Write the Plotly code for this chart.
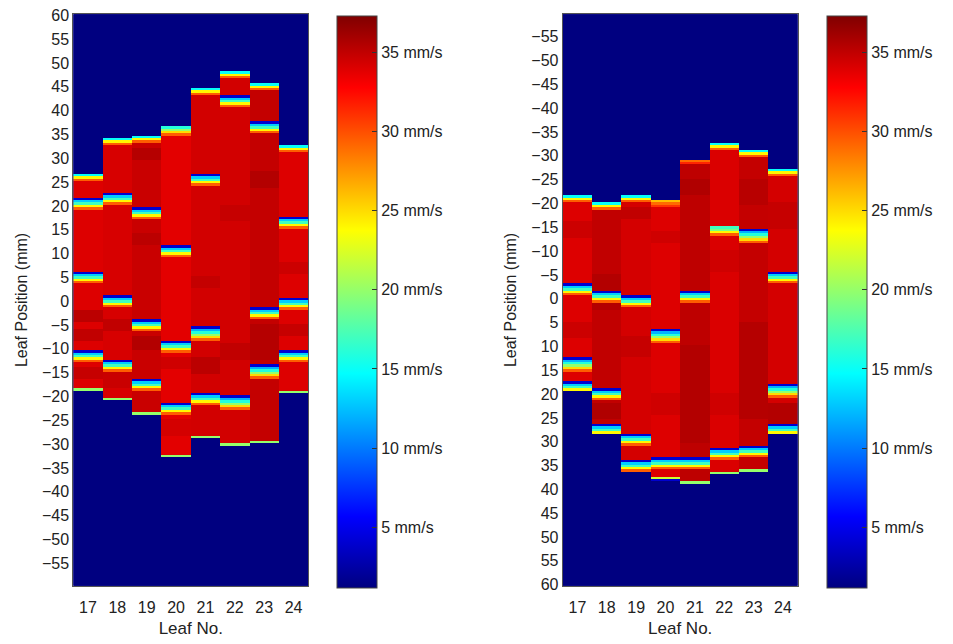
import numpy as np
import plotly.graph_objects as go

# ---------------- data ----------------
LEAVES = [17, 18, 19, 20, 21, 22, 23, 24]
Y_VALUES = np.arange(-59.5, 60.01, 0.5)          # leaf-position rows (mm)
BG_SPEED = 0.5                                   # speed outside the field (mm/s)

# speed profiles (mm/s), in top-to-bottom screen order
P_DIP = [4, 13, 17, 24, 29.5]
P_THICK = [4, 12, 16, 20, 25, 29.5]
P_TOP = [15, 24, 29.5]
P_TOP_THICK = [16, 20, 25, 29.5]
P_SOFT = [26, 29, 31]
P_ORANGE = [29, 31.5]
P_LIGHT = [17, 19, 24, 29.5]
P_BOTTOM = [20]
P_BOTTOM_BLUE = [22, 4]

# ---- left panel (position axis increases upward) ----
L_TOP = [26.5, 34, 34.5, 36.5, 44.5, 48, 45.5, 32.5]
L_BOTTOM = [-18.5, -20.5, -23.5, -32.5, -28.5, -30, -29.5, -19]
L_BASE = [34.0, 34.2, 34.7, 33.8, 34.4, 34.4, 34.9, 34.0]
L_TOP_PROFILE = ["top", "top", "top", "topthick", "top", "top", "top", "top"]
L_DIPS = [
    [(21.5, "dip"), (6, "dip"), (-10.5, "dip")],
    [(22.5, "dip"), (1, "dip"), (-12.5, "dip")],
    [(19.5, "dip"), (-4, "dip"), (-16.5, "dip")],
    [(11.5, "dip"), (-8.5, "dip"), (-21.5, "dip")],
    [(26.5, "dip"), (-5.5, "thick"), (-19.5, "dip")],
    [(43, "dip"), (-20, "thick")],
    [(37.5, "dip"), (-1.5, "dip"), (-13.5, "thick")],
    [(17.5, "dip"), (0.5, "dip"), (-10.5, "dip")],
]
L_DARK = [
    [(-2, -4, 35.2), (-6, -8, 35.0), (-14, -16, 34.8)],
    [(-4, -6, 35.0), (-15, -18, 34.7)],
    [(30, 32, 35.4), (-7.5, -10, 35.5), (12, 14, 35.2)],
    [(-12, -14, 34.5), (-25, -28, 34.3)],
    [(-12, -15, 35.2), (5, 3, 34.9)],
    [(20, 17, 34.8), (-9, -12, 35.0)],
    [(27, 24, 35.5), (-5, -12, 35.4)],
    [(8, 6, 34.6), (-5, -7, 34.8)],
]

# ---- right panel (position axis increases downward) ----
R_TOP = [-21.5, -20, -21.5, -20.5, -29, -32.5, -31, -27]
R_BOTTOM = [19, 28, 36, 38, 38.5, 36.5, 36, 28]
R_BASE = [34.0, 35.0, 34.3, 34.0, 35.1, 34.1, 34.9, 34.3]
R_TOP_PROFILE = ["top", "top", "top", "soft", "orange", "top", "top", "top"]
R_BOTTOM_PROFILE = ["none", "none", "none", "bottomblue", "bottom", "bottom", "bottom", "none"]
R_DIPS = [
    [(-3, "dip"), (12.5, "thick"), (17.5, "dip")],
    [(-1.5, "dip"), (19, "dip"), (26.5, "dip")],
    [(-0.5, "dip"), (28.5, "dip"), (34, "dip")],
    [(6.5, "thick"), (33.5, "dip")],
    [(-1.5, "dip"), (33.5, "dip")],
    [(-15, "light"), (31.5, "dip")],
    [(-14.5, "thick"), (31, "dip")],
    [(-5.5, "dip"), (18, "thick"), (26.5, "dip")],
]
R_DARK = [
    [(-16, -13, 34.6), (5, 8, 34.6)],
    [(-5, 2, 35.5), (22, 25, 35.6)],
    [(-19, -17, 35.0), (8, 12, 34.8)],
    [(-14, -12, 34.5), (20, 24, 34.5)],
    [(-25, -22, 35.6), (10, 30, 35.5)],
    [(-10, -6, 34.5), (20, 24, 34.5)],
    [(-25, -20, 35.3), (5, 25, 35.4)],
    [(-20, -15, 34.8), (22, 26, 35.5)],
]

PROFILES = {
    "dip": P_DIP, "thick": P_THICK, "top": P_TOP, "topthick": P_TOP_THICK,
    "soft": P_SOFT, "orange": P_ORANGE, "light": P_LIGHT,
    "bottom": P_BOTTOM, "bottomblue": P_BOTTOM_BLUE, "none": [],
}

TICKS_LEFT = list(range(60, -56, -5))
TICKS_RIGHT = list(range(-55, 61, 5))
CBAR_TICKS = [5, 10, 15, 20, 25, 30, 35]
CBAR_LABELS = [f"{v} mm/s" for v in CBAR_TICKS]
CMIN, CMAX = 1.2, 37.3


def idx(y):
    return int(round((y - Y_VALUES[0]) / 0.5))


def build(tops, bottoms, bases, top_prof, bottom_prof, dips, dark, down):
    n = len(Y_VALUES)
    z = np.full((n, len(LEAVES)), BG_SPEED)
    for c in range(len(LEAVES)):
        i0, i1 = sorted((idx(tops[c]), idx(bottoms[c])))
        z[i0:i1 + 1, c] = bases[c]
        for a, b, v in dark[c]:
            j0, j1 = sorted((idx(a), idx(b)))
            j0, j1 = max(j0, i0), min(j1, i1)
            if j1 >= j0:
                z[j0:j1 + 1, c] = v
        for k, v in enumerate(PROFILES[top_prof[c]]):
            z[idx(tops[c]) + k * down, c] = v
        for pos, name in dips[c]:
            for k, v in enumerate(PROFILES[name]):
                j = idx(pos) + k * down
                if i0 <= j <= i1:
                    z[j, c] = v
        bp = PROFILES[bottom_prof[c]]
        for k, v in enumerate(bp):
            z[idx(bottoms[c]) - (len(bp) - 1 - k) * down, c] = v
    return z


z_left = build(L_TOP, L_BOTTOM, L_BASE, L_TOP_PROFILE, ["bottom"] * 8, L_DIPS, L_DARK, -1)
z_right = build(R_TOP, R_BOTTOM, R_BASE, R_TOP_PROFILE, R_BOTTOM_PROFILE, R_DIPS, R_DARK, +1)

JET = [[0.0, "rgb(0,0,128)"], [0.125, "rgb(0,0,255)"], [0.375, "rgb(0,255,255)"],
       [0.625, "rgb(255,255,0)"], [0.875, "rgb(255,0,0)"], [1.0, "rgb(128,0,0)"]]

FONT = "Liberation Sans, Arial, sans-serif"
TXT = "#222222"
W, H = 953, 644


def cbar(x_px):
    return dict(
        x=x_px / W, xanchor="left", xref="paper",
        y=1 - 301.2 / H, yanchor="middle", len=584.3 / H, lenmode="fraction",
        thickness=40, thicknessmode="pixels",
        tickmode="array", tickvals=CBAR_TICKS, ticktext=CBAR_LABELS,
        ticks="inside", ticklen=5, tickcolor="#333333",
        outlinewidth=1, outlinecolor="#444444",
        tickfont=dict(family=FONT, size=16, color=TXT), xpad=0, ypad=0,
    )


fig = go.Figure()
fig.add_trace(go.Heatmap(
    x=LEAVES, y=Y_VALUES, z=z_left, colorscale=JET, zmin=CMIN, zmax=CMAX,
    colorbar=cbar(336.7), xaxis="x", yaxis="y",
    hovertemplate="Leaf %{x}<br>%{y} mm<br>%{z:.1f} mm/s<extra></extra>",
))
fig.add_trace(go.Heatmap(
    x=LEAVES, y=Y_VALUES, z=z_right, colorscale=JET, zmin=CMIN, zmax=CMAX,
    colorbar=cbar(826.7), xaxis="x2", yaxis="y2",
    hovertemplate="Leaf %{x}<br>%{y} mm<br>%{z:.1f} mm/s<extra></extra>",
))

axis_common = dict(showgrid=False, zeroline=False, showline=True, linecolor="#555555",
                   linewidth=1, mirror=True, ticks="", ticklabeloverflow="allow",
                   tickfont=dict(family=FONT, size=16, color=TXT))
xtitle = dict(text="Leaf No.", font=dict(family=FONT, size=17, color=TXT), standoff=7)
ytitle = dict(text="Leaf Position (mm)", font=dict(family=FONT, size=16, color=TXT), standoff=10)

fig.update_layout(
    width=W, height=H, margin=dict(l=0, r=0, t=0, b=0),
    paper_bgcolor="white", plot_bgcolor="rgb(0,0,128)",
    showlegend=False,
    xaxis=dict(domain=[73.3 / W, 308.3 / W], anchor="y", tickvals=LEAVES, range=[16.5, 24.5],
               ticklabelstandoff=7, title=xtitle, **axis_common),
    yaxis=dict(domain=[1 - 591.7 / H, 1 - 7.3 / H], anchor="x", tickvals=TICKS_LEFT,
               range=[-59.75, 60.25], title=ytitle, **axis_common),
    xaxis2=dict(domain=[562.7 / W, 797.7 / W], anchor="y2", tickvals=LEAVES, range=[16.5, 24.5],
                ticklabelstandoff=7, title=xtitle, **axis_common),
    yaxis2=dict(domain=[1 - 591.7 / H, 1 - 7.3 / H], anchor="x2", tickvals=TICKS_RIGHT,
                range=[60.25, -59.75], title=ytitle, **axis_common),
)

fig.write_html("out.html")
